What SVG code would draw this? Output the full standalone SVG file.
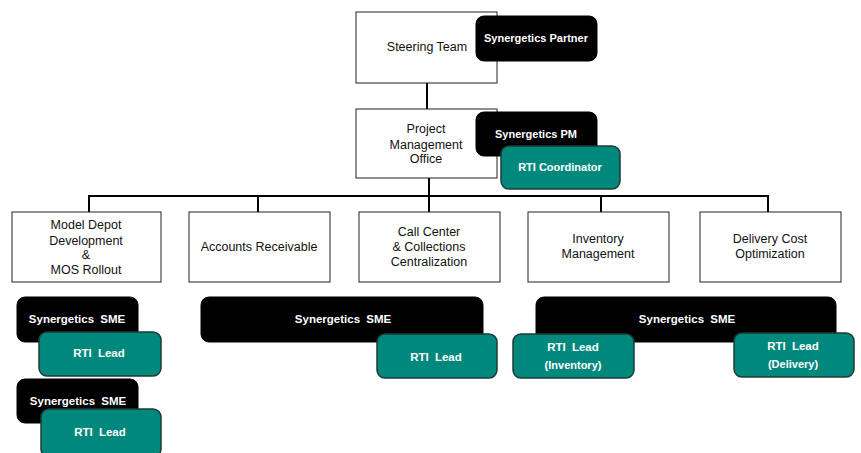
<svg xmlns="http://www.w3.org/2000/svg" width="861" height="453" viewBox="0 0 861 453">
<style>
.box{fill:#fff;stroke:#222;stroke-width:1}
.blk{fill:#000;stroke:#000;stroke-width:1}
.teal{fill:#00887d;stroke:#1d3b37;stroke-width:1.5}
.t{font-family:"Liberation Sans",Arial,sans-serif;font-size:12.5px;fill:#111;text-anchor:middle}
.w{font-family:"Liberation Sans",Arial,sans-serif;font-size:11px;font-weight:bold;fill:#fff;text-anchor:middle}
.ws{font-size:11.5px;word-spacing:3px}
.con{fill:none;stroke:#000;stroke-width:2}
</style>
<rect width="861" height="453" fill="#fff"/>
<g id="connectors">
<path class="con" d="M427,83V110"/>
<path class="con" d="M429,178V196"/>
<path class="con" d="M89,212V196H768V212"/>
<path class="con" d="M258,196V212M429,196V212M601,196V212"/>
</g>
<g id="steering">
<rect class="box" x="356" y="12" width="141" height="71"/>
<text class="t" x="427" y="51">Steering Team</text>
</g>
<g id="syn-partner">
<rect class="blk" x="476" y="16" width="121" height="45" rx="8"/>
<text class="w" x="536" y="42">Synergetics Partner</text>
</g>
<g id="pmo">
<rect class="box" x="356" y="109" width="141" height="69"/>
<text class="t" x="426" y="133">Project</text>
<text class="t" x="426" y="149">Management</text>
<text class="t" x="426" y="163">Office</text>
</g>
<g id="syn-pm">
<rect class="blk" x="476" y="112" width="121" height="44" rx="8"/>
<text class="w" x="536" y="138">Synergetics PM</text>
</g>
<g id="rti-coord">
<rect class="teal" x="501" y="146" width="119" height="43" rx="8"/>
<text class="w" x="560" y="171">RTI Coordinator</text>
</g>
<g id="model-depot">
<rect class="box" x="12" y="212" width="149" height="70"/>
<text class="t" x="86" y="229">Model Depot</text>
<text class="t" x="86" y="245">Development</text>
<text class="t" x="86" y="259">&amp;</text>
<text class="t" x="86" y="274">MOS Rollout</text>
</g>
<g id="accounts">
<rect class="box" x="189" y="212" width="141" height="70"/>
<text class="t" x="259" y="251">Accounts Receivable</text>
</g>
<g id="call-center">
<rect class="box" x="359" y="212" width="141" height="70"/>
<text class="t" x="429" y="236">Call Center</text>
<text class="t" x="429" y="251">&amp; Collections</text>
<text class="t" x="429" y="266">Centralization</text>
</g>
<g id="inventory">
<rect class="box" x="528" y="212" width="141" height="70"/>
<text class="t" x="598" y="243">Inventory</text>
<text class="t" x="598" y="258">Management</text>
</g>
<g id="delivery">
<rect class="box" x="700" y="212" width="141" height="70"/>
<text class="t" x="770" y="243">Delivery Cost</text>
<text class="t" x="770" y="258">Optimization</text>
</g>
<g id="sme1">
<rect class="blk" x="17" y="297" width="121" height="45" rx="8"/>
<text class="w ws" x="77" y="323">Synergetics SME</text>
</g>
<g id="rti-lead1">
<rect class="teal" x="39" y="332" width="122" height="44" rx="8"/>
<text class="w ws" x="99" y="357">RTI Lead</text>
</g>
<g id="sme2">
<rect class="blk" x="17" y="379" width="121" height="44" rx="8"/>
<text class="w ws" x="78" y="405">Synergetics SME</text>
</g>
<g id="rti-lead2">
<rect class="teal" x="41" y="409" width="120" height="48" rx="8"/>
<text class="w ws" x="100" y="436">RTI Lead</text>
</g>
<g id="sme3">
<rect class="blk" x="201" y="297" width="282" height="45" rx="8"/>
<text class="w ws" x="343" y="323">Synergetics SME</text>
</g>
<g id="rti-lead3">
<rect class="teal" x="377" y="334" width="120" height="44" rx="8"/>
<text class="w ws" x="436" y="361">RTI Lead</text>
</g>
<g id="sme4">
<rect class="blk" x="536" y="297" width="300" height="45" rx="8"/>
<text class="w ws" x="687" y="323">Synergetics SME</text>
</g>
<g id="rti-lead-inv">
<rect class="teal" x="513" y="334" width="121" height="44" rx="8"/>
<text class="w ws" x="573" y="351">RTI Lead</text>
<text class="w" x="573" y="369">(Inventory)</text>
</g>
<g id="rti-lead-del">
<rect class="teal" x="734" y="333" width="120" height="44" rx="8"/>
<text class="w ws" x="793" y="350">RTI Lead</text>
<text class="w" x="793" y="368">(Delivery)</text>
</g>
</svg>
